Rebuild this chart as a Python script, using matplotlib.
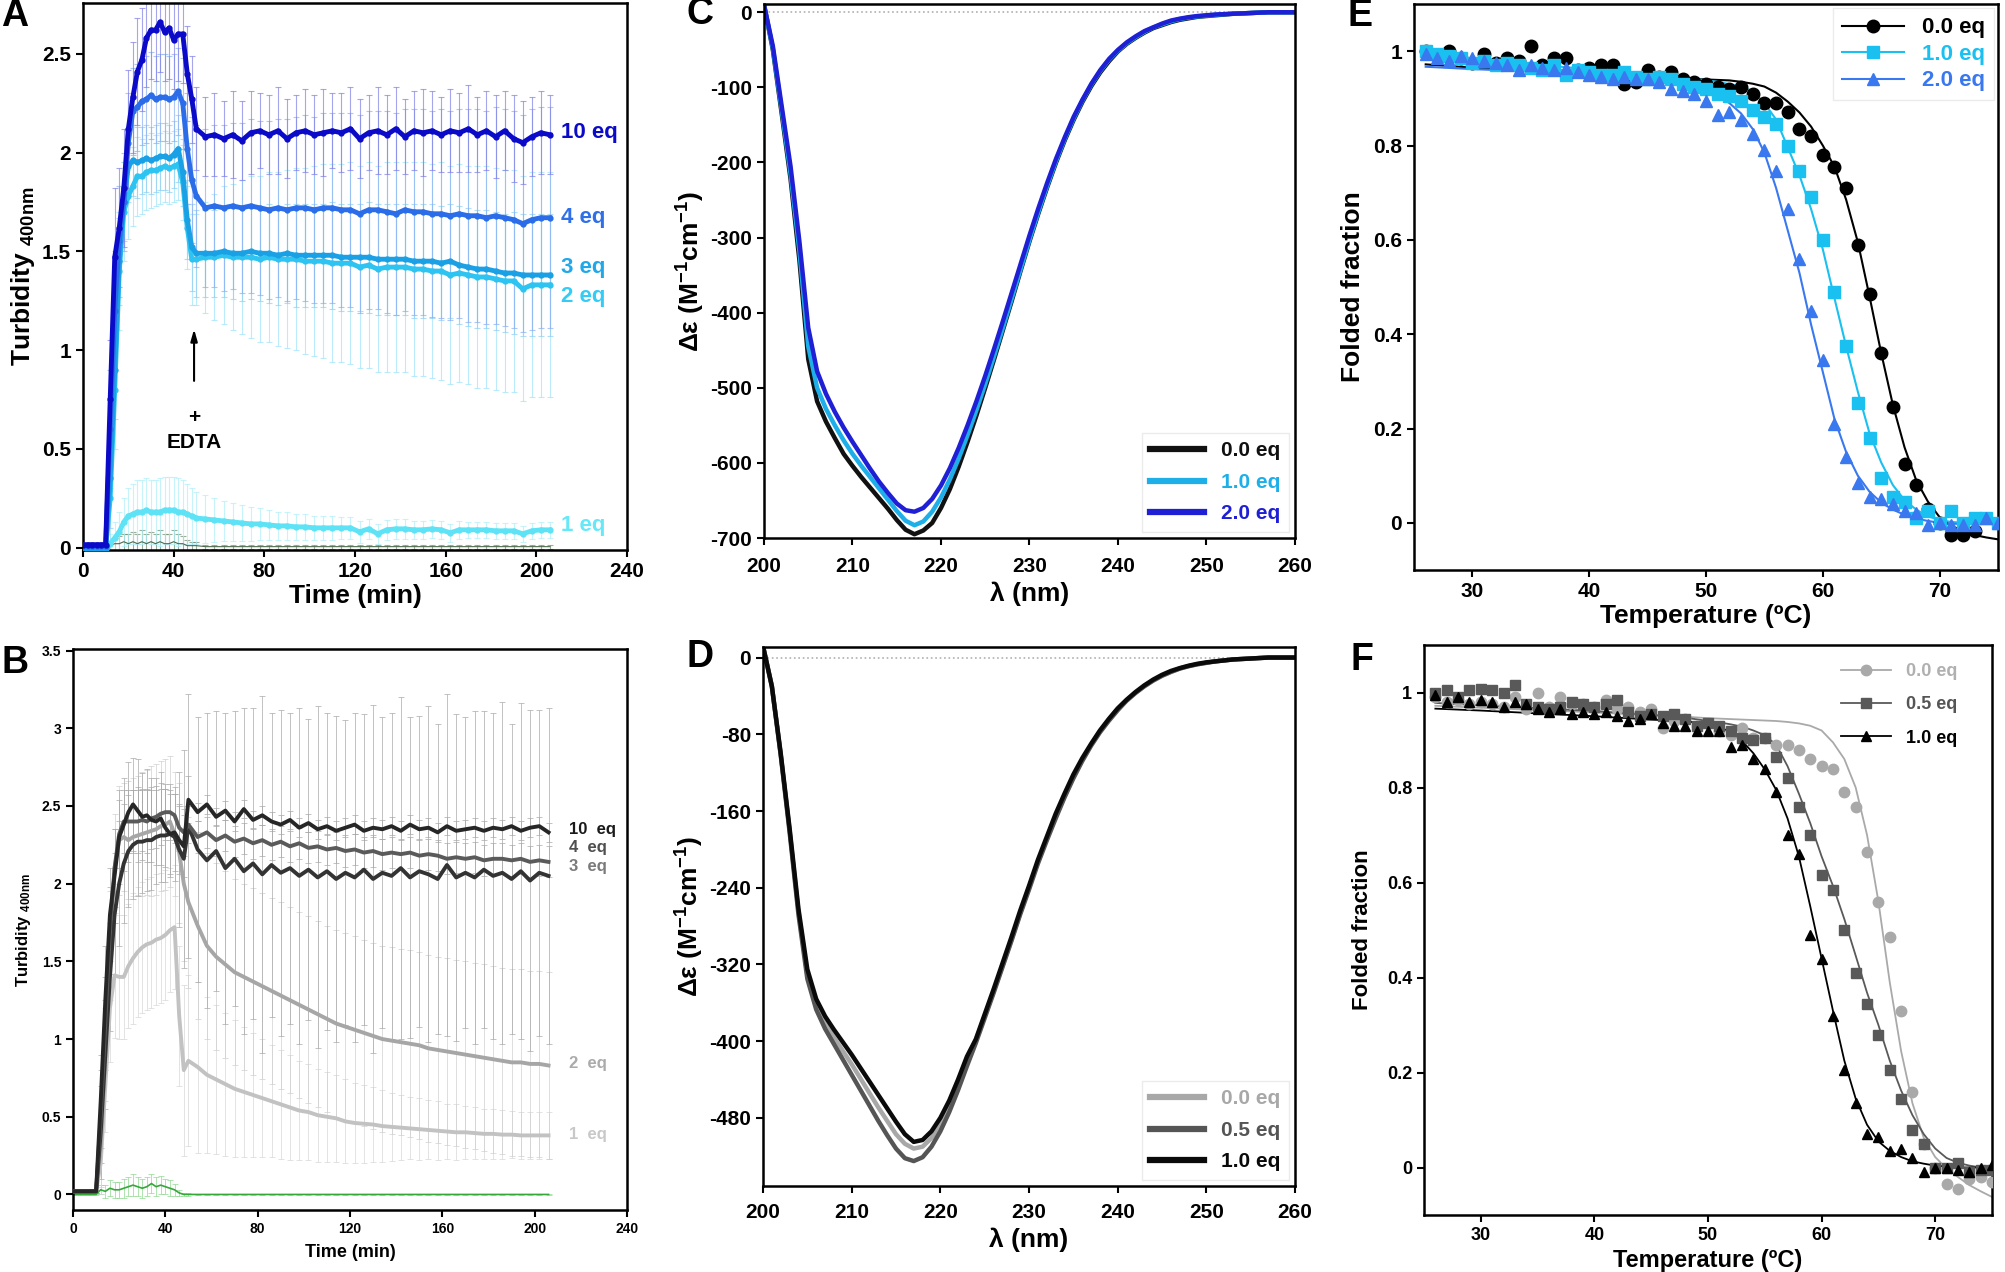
import matplotlib
matplotlib.use("Agg")
import matplotlib.pyplot as plt
from matplotlib.lines import Line2D
from matplotlib.ticker import FuncFormatter
import numpy as np

plt.rcParams["font.family"] = ["Liberation Sans", "DejaVu Sans"]
plt.rcParams["font.weight"] = "bold"
plt.rcParams["axes.labelweight"] = "bold"
plt.rcParams["mathtext.fontset"] = "custom"
plt.rcParams["mathtext.rm"] = "Liberation Sans:bold"
plt.rcParams["mathtext.it"] = "Liberation Sans:bold"
plt.rcParams["mathtext.bf"] = "Liberation Sans:bold"
plt.rcParams["axes.linewidth"] = 1.8

# ---------------- turbidity (A: blue, B: grey) ----------------
time = np.r_[np.arange(0, 51, 2), np.arange(54, 207, 4)]

a10 = [0.015] * 6 + [0.75, 1.47, 1.62, 1.82, 2.12, 2.28, 2.41, 2.47, 2.58, 2.62, 2.62, 2.66, 2.61, 2.63, 2.57, 2.60, 2.60, 2.40, 2.27, 2.12] + \
      [2.08, 2.09, 2.07, 2.09, 2.06, 2.10, 2.11, 2.09, 2.11, 2.07, 2.10, 2.11, 2.09, 2.10, 2.11, 2.10, 2.12, 2.07, 2.10, 2.11,
       2.09, 2.12, 2.08, 2.11, 2.10, 2.11, 2.09, 2.11, 2.10, 2.12, 2.09, 2.11, 2.08, 2.11, 2.07, 2.05, 2.08, 2.10, 2.09]
a4 = [0.01] * 6 + [0.6, 1.2, 1.55, 1.75, 2.05, 2.21, 2.23, 2.26, 2.27, 2.29, 2.27, 2.28, 2.28, 2.27, 2.28, 2.31, 2.25, 2.02, 1.86, 1.78] + \
     [1.72, 1.73, 1.72, 1.73, 1.72, 1.73, 1.72, 1.71, 1.72, 1.71, 1.72, 1.72, 1.71, 1.72, 1.72, 1.71, 1.71, 1.69, 1.71, 1.71,
      1.70, 1.69, 1.71, 1.70, 1.70, 1.69, 1.69, 1.68, 1.69, 1.68, 1.68, 1.67, 1.68, 1.67, 1.66, 1.64, 1.66, 1.67, 1.67]
a3 = [0.0] * 6 + [0.35, 0.9, 1.45, 1.75, 1.93, 1.96, 1.95, 1.96, 1.97, 1.96, 1.97, 1.98, 1.98, 1.97, 1.99, 2.02, 1.90, 1.66, 1.52, 1.49] + \
     [1.49, 1.49, 1.50, 1.49, 1.49, 1.50, 1.49, 1.49, 1.48, 1.49, 1.48, 1.48, 1.48, 1.48, 1.48, 1.47, 1.47, 1.47, 1.47, 1.46,
      1.46, 1.46, 1.46, 1.45, 1.45, 1.45, 1.44, 1.45, 1.43, 1.42, 1.41, 1.41, 1.40, 1.39, 1.39, 1.38, 1.38, 1.38, 1.38]
a2 = [0.0] * 6 + [0.25, 0.8, 1.40, 1.70, 1.78, 1.83, 1.88, 1.88, 1.90, 1.91, 1.91, 1.92, 1.93, 1.92, 1.93, 1.94, 1.85, 1.62, 1.46, 1.46] + \
     [1.47, 1.47, 1.48, 1.47, 1.47, 1.47, 1.46, 1.47, 1.46, 1.46, 1.46, 1.45, 1.45, 1.45, 1.44, 1.44, 1.44, 1.42, 1.43, 1.41,
      1.42, 1.42, 1.42, 1.41, 1.41, 1.40, 1.40, 1.38, 1.39, 1.38, 1.37, 1.37, 1.36, 1.35, 1.35, 1.31, 1.33, 1.33, 1.33]
a1 = [0.0] * 6 + [0.02, 0.05, 0.08, 0.13, 0.16, 0.17, 0.18, 0.18, 0.19, 0.18, 0.18, 0.18, 0.19, 0.19, 0.19, 0.18, 0.18, 0.17, 0.16, 0.15] + \
     [0.145, 0.14, 0.135, 0.13, 0.125, 0.12, 0.12, 0.115, 0.11, 0.11, 0.105, 0.105, 0.10, 0.10, 0.10, 0.10, 0.10, 0.08, 0.095, 0.07,
      0.09, 0.095, 0.095, 0.09, 0.09, 0.095, 0.09, 0.075, 0.09, 0.09, 0.09, 0.09, 0.085, 0.085, 0.085, 0.07, 0.085, 0.09, 0.09]
a0 = [0.0] * 6 + [0.01, 0.02, 0.02, 0.03, 0.02, 0.03, 0.02, 0.03, 0.02, 0.03, 0.02, 0.03, 0.02, 0.02, 0.03, 0.02, 0.02, 0.01, 0.01, 0.01] + [0.005] * 39

a10_err = [0.01] * 6 + [0.3, 0.35, 0.3, 0.3, 0.3, 0.28, 0.27, 0.26, 0.25, 0.25, 0.26, 0.25, 0.25, 0.26, 0.25, 0.24, 0.25, 0.24, 0.22, 0.21] + \
          [0.20, 0.21, 0.19, 0.22, 0.2, 0.21, 0.19, 0.2, 0.22, 0.2, 0.19, 0.21, 0.2, 0.22, 0.19, 0.2, 0.21, 0.2, 0.19, 0.22,
           0.2, 0.21, 0.19, 0.2, 0.22, 0.2, 0.19, 0.21, 0.2, 0.22, 0.19, 0.2, 0.21, 0.2, 0.22, 0.21, 0.2, 0.21, 0.2]
a4_err = [0.01] * 6 + [0.3, 0.3, 0.28, 0.25, 0.25, 0.22, 0.22, 0.22, 0.22, 0.22, 0.22, 0.22, 0.22, 0.22, 0.22, 0.22, 0.23, 0.28, 0.32, 0.36] + \
         [0.40, 0.41, 0.42, 0.42, 0.43, 0.44, 0.44, 0.45, 0.45, 0.46, 0.46, 0.47, 0.47, 0.48, 0.48, 0.49, 0.49, 0.5, 0.5, 0.5,
          0.51, 0.51, 0.51, 0.52, 0.52, 0.52, 0.53, 0.53, 0.53, 0.54, 0.54, 0.54, 0.55, 0.55, 0.55, 0.55, 0.56, 0.56, 0.56]
a3_err = [0.01] * 6 + [0.25, 0.25, 0.22, 0.2, 0.18, 0.18, 0.18, 0.17, 0.17, 0.17, 0.17, 0.17, 0.17, 0.17, 0.17, 0.17, 0.17, 0.2, 0.22, 0.22] + \
         [0.22, 0.22, 0.23, 0.23, 0.24, 0.24, 0.24, 0.25, 0.25, 0.25, 0.26, 0.26, 0.26, 0.26, 0.27, 0.27, 0.27, 0.27, 0.28, 0.28,
          0.28, 0.28, 0.28, 0.29, 0.29, 0.29, 0.29, 0.29, 0.3, 0.3, 0.3, 0.3, 0.3, 0.3, 0.31, 0.31, 0.31, 0.31, 0.31]
a2_err = [0.01] * 6 + [0.3, 0.3, 0.3, 0.25, 0.22, 0.2, 0.2, 0.19, 0.19, 0.19, 0.18, 0.18, 0.18, 0.18, 0.18, 0.18, 0.19, 0.21, 0.23, 0.23] + \
         [0.28, 0.32, 0.35, 0.37, 0.39, 0.41, 0.42, 0.43, 0.44, 0.45, 0.46, 0.47, 0.48, 0.49, 0.5, 0.5, 0.51, 0.51, 0.52, 0.52,
          0.53, 0.53, 0.53, 0.54, 0.54, 0.54, 0.55, 0.55, 0.55, 0.55, 0.56, 0.56, 0.56, 0.56, 0.56, 0.57, 0.57, 0.57, 0.57]
a1_err = [0.005] * 6 + [0.05, 0.08, 0.1, 0.12, 0.14, 0.15, 0.16, 0.16, 0.16, 0.16, 0.16, 0.17, 0.17, 0.17, 0.17, 0.17, 0.16, 0.15, 0.14, 0.13] + \
         [0.12, 0.11, 0.1, 0.095, 0.09, 0.085, 0.08, 0.075, 0.07, 0.07, 0.065, 0.065, 0.06, 0.06, 0.06, 0.055, 0.055, 0.055, 0.05, 0.05,
          0.05, 0.05, 0.05, 0.045, 0.045, 0.045, 0.045, 0.045, 0.045, 0.04, 0.04, 0.04, 0.04, 0.04, 0.04, 0.04, 0.04, 0.04, 0.04]
a0_err = [0.005] * 6 + [0.02, 0.03, 0.04, 0.04, 0.05, 0.05, 0.05, 0.06, 0.05, 0.05, 0.05, 0.06, 0.05, 0.05, 0.06, 0.05, 0.04, 0.03, 0.02, 0.02] + [0.01] * 39

b10 = [0.02] * 6 + [0.6, 1.25, 1.8, 2.05, 2.30, 2.38, 2.46, 2.51, 2.47, 2.43, 2.44, 2.41, 2.40, 2.42, 2.36, 2.32, 2.33, 2.28, 2.24, 2.54] + \
      [2.46, 2.51, 2.43, 2.47, 2.40, 2.48, 2.41, 2.44, 2.40, 2.38, 2.41, 2.36, 2.39, 2.35, 2.37, 2.34, 2.36, 2.38, 2.34, 2.36,
       2.35, 2.37, 2.34, 2.38, 2.35, 2.36, 2.33, 2.37, 2.34, 2.35, 2.36, 2.34, 2.36, 2.35, 2.37, 2.34, 2.36, 2.37, 2.33]
b4 = [0.02] * 6 + [0.5, 1.1, 1.7, 2.1, 2.32, 2.40, 2.40, 2.40, 2.40, 2.41, 2.40, 2.42, 2.43, 2.45, 2.46, 2.46, 2.44, 2.36, 2.33, 2.38] + \
     [2.30, 2.33, 2.28, 2.31, 2.27, 2.29, 2.26, 2.28, 2.25, 2.27, 2.24, 2.26, 2.23, 2.24, 2.22, 2.23, 2.21, 2.22, 2.20, 2.21,
      2.19, 2.20, 2.19, 2.20, 2.18, 2.19, 2.18, 2.16, 2.17, 2.16, 2.17, 2.15, 2.16, 2.16, 2.15, 2.16, 2.14, 2.15, 2.14]
b3 = [0.02] * 6 + [0.4, 0.9, 1.4, 1.8, 2.0, 2.13, 2.21, 2.25, 2.27, 2.27, 2.28, 2.28, 2.30, 2.31, 2.31, 2.32, 2.30, 2.22, 2.16, 2.37] + \
     [2.22, 2.15, 2.21, 2.10, 2.16, 2.08, 2.13, 2.06, 2.12, 2.07, 2.10, 2.05, 2.09, 2.04, 2.08, 2.03, 2.07, 2.04, 2.09, 2.03,
      2.07, 2.05, 2.10, 2.04, 2.08, 2.06, 2.03, 2.12, 2.04, 2.07, 2.04, 2.09, 2.05, 2.07, 2.03, 2.08, 2.02, 2.07, 2.05]
b2 = [0.02] * 6 + [0.3, 0.9, 1.6, 2.1, 2.28, 2.30, 2.28, 2.30, 2.31, 2.32, 2.33, 2.34, 2.35, 2.37, 2.38, 2.40, 2.32, 2.20, 2.00, 1.88] + \
     [1.73, 1.60, 1.53, 1.48, 1.43, 1.40, 1.37, 1.34, 1.31, 1.28, 1.25, 1.22, 1.19, 1.16, 1.13, 1.10, 1.08, 1.06, 1.04, 1.02,
      1.00, 0.99, 0.98, 0.97, 0.96, 0.94, 0.93, 0.92, 0.91, 0.90, 0.89, 0.88, 0.87, 0.86, 0.85, 0.85, 0.84, 0.84, 0.83]
b1 = [0.02] * 6 + [0.2, 0.7, 1.2, 1.41, 1.40, 1.40, 1.47, 1.52, 1.56, 1.59, 1.61, 1.62, 1.64, 1.65, 1.67, 1.70, 1.72, 1.15, 0.80, 0.86] + \
     [0.82, 0.77, 0.74, 0.71, 0.68, 0.66, 0.64, 0.62, 0.60, 0.58, 0.56, 0.54, 0.53, 0.51, 0.50, 0.49, 0.47, 0.46, 0.455, 0.45,
      0.44, 0.435, 0.43, 0.425, 0.42, 0.415, 0.41, 0.405, 0.40, 0.40, 0.395, 0.39, 0.39, 0.385, 0.385, 0.38, 0.38, 0.38, 0.38]
b0 = [0.0] * 6 + [0.03, 0.02, 0.04, 0.03, 0.03, 0.04, 0.05, 0.06, 0.05, 0.04, 0.05, 0.07, 0.05, 0.06, 0.05, 0.04, 0.03, 0.01, 0.0, 0.0] + [0.0] * 39

b10_err = [0.01] * 6 + [0.3, 0.35, 0.3, 0.3, 0.3, 0.3, 0.32, 0.3, 0.33, 0.28, 0.3, 0.27, 0.28, 0.3, 0.25, 0.26, 0.25, 0.22, 0.2, 0.15] + [0.06] * 39
b4_err = [0.01] * 6 + [0.3, 0.3, 0.28, 0.25, 0.22, 0.2, 0.2, 0.2, 0.2, 0.2, 0.2, 0.2, 0.2, 0.2, 0.18, 0.18, 0.18, 0.15, 0.15, 0.12] + [0.1] * 39
b3_err = [0.01] * 6 + [0.3, 0.35, 0.35, 0.4, 0.4, 0.38, 0.36, 0.35, 0.35, 0.33, 0.33, 0.32, 0.3, 0.3, 0.3, 0.28, 0.28, 0.5, 0.7, 0.85] + \
         [0.85, 0.95, 0.9, 1.0, 0.95, 1.05, 1.0, 1.15, 0.98, 1.05, 1.0, 1.08, 0.97, 1.1, 1.02, 1.05, 0.98, 1.06, 1.0, 1.12,
          1.0, 1.05, 1.1, 1.03, 1.0, 1.08, 1.0, 1.1, 1.05, 1.0, 1.07, 1.02, 1.05, 1.1, 1.0, 1.08, 1.1, 1.05, 1.08]
b2_err = [0.01] * 6 + [0.25, 0.3, 0.35, 0.35, 0.35, 0.35, 0.38, 0.38, 0.38, 0.4, 0.4, 0.42, 0.42, 0.42, 0.42, 0.42, 0.4, 0.45, 0.5, 0.55] + [0.6] * 39
b1_err = [0.01] * 6 + [0.2, 0.3, 0.35, 0.4, 0.4, 0.4, 0.4, 0.42, 0.42, 0.42, 0.42, 0.42, 0.42, 0.42, 0.42, 0.4, 0.4, 0.45, 0.55, 0.55] + \
         [0.55, 0.5, 0.48, 0.46, 0.44, 0.42, 0.4, 0.38, 0.36, 0.35, 0.34, 0.32, 0.31, 0.3, 0.29, 0.28, 0.27, 0.26, 0.25, 0.24,
          0.23, 0.22, 0.21, 0.2, 0.2, 0.19, 0.19, 0.18, 0.18, 0.17, 0.17, 0.16, 0.16, 0.16, 0.15, 0.15, 0.15, 0.15, 0.15]
b0_err = [0.005] * 6 + [0.03, 0.04, 0.05, 0.05, 0.05, 0.06, 0.06, 0.07, 0.06, 0.06, 0.06, 0.06, 0.06, 0.06, 0.05, 0.05, 0.04, 0.02, 0.01, 0.01] + [0.005] * 39

turb_labels = ["10 eq", "4 eq", "3 eq", "2 eq", "1 eq"]

# ---------------- CD spectra (C, D) ----------------
wl = np.arange(200, 261)
c_00 = [10, -50, -135, -222, -330, -462, -518, -545, -567, -588, -604, -619, -633, -647, -661, -676, -689, -695, -690,
        -680, -660, -635, -605, -572, -537, -500, -462, -423, -384, -344, -305, -268, -233, -200, -170, -143, -119, -98,
        -80, -65, -52, -42, -34, -27, -21, -17, -13, -10, -8, -6, -5, -4, -3, -2, -1.5, -1, -0.5, 0, 0, 0, 0]
c_10 = [10, -48, -130, -215, -318, -445, -500, -528, -550, -570, -588, -604, -619, -634, -649, -664, -677, -683, -678,
        -665, -646, -622, -594, -563, -530, -495, -458, -420, -381, -342, -303, -266, -231, -198, -168, -141, -117, -96,
        -78, -63, -51, -41, -33, -26, -20, -16, -12, -9, -7, -5.5, -4.5, -3.5, -2.5, -2, -1.5, -1, -0.5, 0, 0, 0, 0]
c_20 = [10, -45, -125, -205, -305, -420, -478, -508, -532, -553, -572, -590, -608, -625, -640, -654, -663, -665, -660,
        -648, -630, -607, -580, -550, -518, -484, -448, -411, -373, -335, -297, -261, -227, -195, -166, -139, -116, -95,
        -77, -62, -50, -40, -32, -25, -20, -15, -11, -8.5, -6.5, -5, -4, -3, -2.5, -2, -1.5, -1, -0.5, 0, 0, 0, 0]
d_00 = [12, -30, -101, -180, -265, -330, -362, -381, -396, -410, -424, -439, -454, -469, -483, -497, -507, -512, -510,
        -501, -487, -468, -446, -421, -399, -374, -348, -322, -295, -267, -240, -213, -189, -166, -145, -125, -107, -91,
        -77, -65, -54, -45, -37, -30, -24, -19, -15, -11.5, -9, -7, -5.5, -4, -3, -2, -1.5, -1, -0.5, 0, 0, 0, 0]
d_05 = [12, -30, -102, -182, -268, -335, -367, -387, -403, -419, -435, -451, -467, -483, -498, -512, -522, -525, -521,
        -510, -494, -474, -451, -426, -402, -376, -350, -323, -296, -268, -242, -215, -191, -168, -146, -126, -108, -92,
        -78, -66, -55, -45, -37, -30, -24, -19, -15, -11.5, -9, -7, -5.5, -4, -3, -2, -1.5, -1, -0.5, 0, 0, 0, 0]
d_10 = [12, -30, -100, -178, -262, -325, -356, -374, -388, -401, -414, -428, -442, -456, -470, -484, -497, -505, -503,
        -494, -480, -462, -440, -416, -398, -372, -346, -319, -292, -264, -238, -211, -187, -163, -142, -122, -105, -90,
        -76, -64, -53, -44, -36, -29, -23, -18, -14, -11, -8.5, -6.5, -5, -4, -3, -2, -1.5, -1, -0.5, 0, 0, 0, 0]

# ---------------- thermal melts (E, F) ----------------
temp = np.arange(26, 76)
nan = np.nan
e_00 = [1.0, 0.99, 1.0, 0.985, 0.975, 0.995, 0.975, 0.985, 0.98, 1.01, 0.97, 0.985, 0.985, 0.96, 0.965, 0.97, 0.97,
        0.93, 0.935, 0.96, 0.945, 0.955, 0.94, 0.935, 0.93, 0.925, 0.92, 0.925, 0.91, 0.89, 0.89, 0.87, 0.835, 0.82,
        0.78, 0.755, 0.71, 0.59, 0.485, 0.36, 0.245, 0.125, 0.08, 0.03, 0.0, -0.025, -0.025, -0.018, nan, nan]
e_10 = [1.0, 0.995, 0.99, 0.985, 0.975, 0.98, 0.97, 0.975, 0.97, 0.965, 0.96, 0.97, 0.95, 0.96, 0.955, 0.95, 0.95,
        0.955, 0.945, 0.94, 0.945, 0.94, 0.93, 0.925, 0.92, 0.91, 0.905, 0.895, 0.876, 0.86, 0.845, 0.80, 0.745, 0.69,
        0.60, 0.49, 0.375, 0.255, 0.18, 0.095, 0.055, 0.045, 0.01, 0.025, 0.0, 0.025, 0.0, 0.01, 0.01, 0.0]
e_20 = [0.995, 0.985, 0.98, 0.99, 0.985, 0.98, 0.975, 0.97, 0.96, 0.97, 0.965, 0.96, 0.965, 0.955, 0.95, 0.945, 0.94,
        0.945, 0.94, 0.94, 0.935, 0.92, 0.915, 0.91, 0.895, 0.865, 0.87, 0.855, 0.825, 0.79, 0.745, 0.665, 0.56, 0.45,
        0.345, 0.21, 0.14, 0.085, 0.055, 0.05, 0.04, 0.025, 0.02, -0.005, 0.0, -0.005, -0.005, -0.005, 0.01, 0.0]
f_00 = [0.99, 0.98, 0.985, 0.975, 0.98, 0.975, 0.97, 0.99, 0.965, 1.0, 0.97, 0.99, 0.975, 0.975, 0.97, 0.985, 0.965,
        0.97, 0.96, 0.965, 0.925, 0.94, 0.945, 0.93, 0.935, 0.92, 0.91, 0.925, 0.905, 0.905, 0.89, 0.89, 0.88, 0.86,
        0.845, 0.84, 0.79, 0.76, 0.665, 0.56, 0.485, 0.33, 0.16, 0.05, 0.0, -0.035, -0.045, -0.025, -0.02, -0.03]
f_05 = [1.0, 1.005, 0.99, 1.005, 1.007, 1.005, 1.0, 1.015, 0.975, 0.97, 0.965, 0.97, 0.98, 0.975, 0.97, 0.975, 0.985,
        0.96, 0.95, 0.955, 0.95, 0.955, 0.945, 0.93, 0.935, 0.93, 0.92, 0.905, 0.9, 0.905, 0.865, 0.82, 0.76, 0.70,
        0.615, 0.585, 0.50, 0.41, 0.345, 0.28, 0.205, 0.145, 0.08, 0.05, 0.0, 0.0, 0.01, -0.01, -0.005, -0.005]
f_10 = [0.995, 0.98, 0.99, 0.98, 0.985, 0.98, 0.97, 0.98, 0.975, 0.965, 0.96, 0.965, 0.955, 0.96, 0.955, 0.96, 0.95,
        0.94, 0.945, 0.955, 0.935, 0.93, 0.93, 0.92, 0.92, 0.92, 0.885, 0.89, 0.86, 0.84, 0.79, 0.70, 0.66, 0.49,
        0.44, 0.32, 0.205, 0.135, 0.07, 0.065, 0.035, 0.04, 0.02, -0.01, 0.0, 0.0, -0.005, -0.01, 0.0, 0.005]

fit_t = [26, 30, 35, 40, 45, 48, 50, 51, 52, 53, 54, 55, 56, 57, 58, 59, 60, 61, 62, 63, 64, 65, 66, 67, 68, 69,
         70, 71, 72, 73, 74, 75]
e_fit_00 = [0.972, 0.965, 0.958, 0.951, 0.945, 0.942, 0.94, 0.939, 0.938, 0.935, 0.931, 0.925, 0.912, 0.893, 0.87,
            0.84, 0.80, 0.755, 0.685, 0.595, 0.48, 0.36, 0.25, 0.16, 0.09, 0.045, 0.012, -0.006, -0.018, -0.026,
            -0.031, -0.035]
e_fit_10 = [0.99, 0.982, 0.972, 0.962, 0.952, 0.945, 0.938, 0.935, 0.93, 0.925, 0.915, 0.89, 0.855, 0.796, 0.737,
            0.665, 0.58, 0.476, 0.374, 0.278, 0.19, 0.128, 0.08, 0.048, 0.028, 0.014, 0.006, 0.002, 0.0, 0.0, 0.0, 0.0]
e_fit_20 = [0.967, 0.962, 0.957, 0.95, 0.94, 0.93, 0.918, 0.905, 0.89, 0.868, 0.835, 0.785, 0.71, 0.62, 0.53, 0.42,
            0.32, 0.22, 0.15, 0.10, 0.066, 0.043, 0.028, 0.017, 0.009, 0.004, 0.0, -0.002, -0.002, -0.002, -0.002,
            -0.002]
f_fit_00 = [0.972, 0.968, 0.963, 0.958, 0.952, 0.949, 0.946, 0.945, 0.944, 0.943, 0.942, 0.941, 0.94, 0.938, 0.935,
            0.93, 0.92, 0.895, 0.86, 0.80, 0.70, 0.56, 0.39, 0.245, 0.135, 0.062, 0.022, -0.002, -0.02, -0.037,
            -0.05, -0.062]
f_fit_05 = [0.978, 0.973, 0.967, 0.961, 0.953, 0.947, 0.94, 0.937, 0.933, 0.928, 0.92, 0.91, 0.89, 0.845, 0.787,
            0.725, 0.655, 0.593, 0.523, 0.446, 0.368, 0.30, 0.225, 0.162, 0.11, 0.07, 0.04, 0.02, 0.01, 0.004, 0.0,
            -0.002]
f_fit_10 = [0.966, 0.962, 0.956, 0.95, 0.943, 0.939, 0.935, 0.928, 0.916, 0.898, 0.872, 0.838, 0.795, 0.735, 0.655,
            0.55, 0.44, 0.33, 0.225, 0.145, 0.09, 0.055, 0.035, 0.022, 0.013, 0.008, 0.004, 0.002, 0.0, 0.0, 0.0, 0.0]

# ---------------- figure ----------------
W, H = 2006, 1272
fig = plt.figure(figsize=(W / 100, H / 100), dpi=100)


def panel(l, t, r, b):
    return fig.add_axes([l / W, 1 - b / H, (r - l) / W, (b - t) / H])


def style(ax, size, pad=3.5):
    ax.tick_params(direction="out", length=5, width=1.5, labelsize=size, pad=pad)
    ax.xaxis.set_major_formatter(FuncFormatter(lambda v, p: f"{v:g}"))
    ax.yaxis.set_major_formatter(FuncFormatter(lambda v, p: f"{v:g}"))


# A
ax = panel(83, 3, 627, 550)
a_series = [a0, a1, a2, a3, a4, a10]
a_errs = [a0_err, a1_err, a2_err, a3_err, a4_err, a10_err]
a_cols = ["#4d6b4d", "#5de3f5", "#2dc4f2", "#1aa0e4", "#2b6de8", "#0a0ac8"]
a_ecols = ["#6f8f6f", "#b0f0fa", "#a0e4fa", "#90cff2", "#8cb0f2", "#8080e6"]
for y, e, ec in zip(a_series, a_errs, a_ecols):
    ax.errorbar(time, y, yerr=e, fmt="none", ecolor=ec, elinewidth=0.8, capsize=2.5, capthick=0.8,
                alpha=0.7, zorder=1)
ax.plot(time, a0, color=a_cols[0], lw=0.8, zorder=2)
for y, c in zip(a_series[1:], a_cols[1:]):
    ax.plot(time, y, color=c, lw=3.5, marker="o", ms=3.5, zorder=3)
a_lab_y = [2.10, 1.67, 1.42, 1.27, 0.11]
a_lab_c = ["#0a0ac8", "#2f6fe8", "#20a8ea", "#33ccf7", "#66e8f8"]
for lab, yv, c in zip(turb_labels, a_lab_y, a_lab_c):
    ax.text(211, yv, lab, color=c, fontsize=16, va="center")
ax.annotate("", xy=(49, 1.12), xytext=(49, 0.83),
            arrowprops=dict(arrowstyle="-|>,head_width=0.2,head_length=0.7", color="black", lw=1.5))
ax.text(49, 0.66, "+", fontsize=15, ha="center", va="center")
ax.text(49, 0.53, "EDTA", fontsize=15, ha="center", va="center")
ax.set_xlim(0, 240)
ax.set_ylim(-0.012, 2.757)
ax.set_xticks(range(0, 241, 40))
ax.set_yticks([0, 0.5, 1, 1.5, 2, 2.5])
style(ax, 15)
ax.set_xlabel("Time (min)", fontsize=19, labelpad=2)
ax.set_ylabel(r"Turbidity $_{400nm}$", fontsize=19, labelpad=4)

# B
ax = panel(73, 649, 627, 1210)
b_series = [b0, b1, b2, b3, b4, b10]
b_errs = [b0_err, b1_err, b2_err, b3_err, b4_err, b10_err]
b_cols = ["#35a83a", "#c2c2c2", "#a6a6a6", "#333333", "#5a5a5a", "#262626"]
b_ecols = ["#8fd690", "#d6d6d6", "#cfcfcf", "#a8a8a8", "#a8a8a8", "#a8a8a8"]
for y, e, ec in zip(b_series, b_errs, b_ecols):
    ax.errorbar(time, y, yerr=e, fmt="none", ecolor=ec, elinewidth=0.7, capsize=2, capthick=0.7,
                alpha=0.7, zorder=1)
ax.plot(time, b0, color=b_cols[0], lw=1.2, zorder=2)
for y, c in zip(b_series[1:], b_cols[1:]):
    ax.plot(time, y, color=c, lw=2.8, zorder=3)
b_lab_y = [2.35, 2.23, 2.11, 0.84, 0.385]
b_lab_c = ["#1a1a1a", "#505050", "#7a7a7a", "#ababab", "#c8c8c8"]
for lab, yv, c in zip(turb_labels, b_lab_y, b_lab_c):
    ax.text(215, yv, lab.replace(" ", "  "), color=c, fontsize=12, va="center")
ax.set_xlim(0, 240)
ax.set_ylim(-0.1, 3.51)
ax.set_xticks(range(0, 241, 40))
ax.set_yticks([0, 0.5, 1, 1.5, 2, 2.5, 3, 3.5])
style(ax, 10)
ax.set_xlabel("Time (min)", fontsize=13, labelpad=6)
ax.set_ylabel(r"Turbidity $_{400nm}$", fontsize=12, labelpad=6)

# C
ax = panel(764, 4, 1295, 538)
ax.axhline(0, color="#b0b0b0", ls=":", lw=1.2, zorder=0)
c_cols = ["#111111", "#1eaee8", "#1f1fd6"]
for y, c, lab in zip([c_00, c_10, c_20], c_cols, ["0.0 eq", "1.0 eq", "2.0 eq"]):
    ax.plot(wl, y, color=c, lw=3.2, label=lab)
leg = ax.legend(loc="lower right", fontsize=15, handlelength=2.6, frameon=True, fancybox=False,
                edgecolor="#e6e6e6", borderaxespad=0.3, labelspacing=0.6)
for t, c in zip(leg.get_texts(), c_cols):
    t.set_color(c)
for h in leg.get_lines():
    h.set_linewidth(4.5)
ax.set_xlim(200, 260)
ax.set_ylim(-700, 11)
ax.set_xticks(range(200, 261, 10))
ax.set_yticks(range(-700, 1, 100))
style(ax, 15)
ax.tick_params(axis="x", pad=9)
ax.set_xlabel("λ (nm)", fontsize=19, labelpad=4)
ax.set_ylabel(r"Δε (M$^{-1}$cm$^{-1}$)", fontsize=19, labelpad=2)

# D
ax = panel(763, 647, 1295, 1186)
ax.axhline(0, color="#b0b0b0", ls=":", lw=1.2, zorder=0)
d_cols = ["#a8a8a8", "#555555", "#0a0a0a"]
for y, c, lab in zip([d_00, d_05, d_10], d_cols, ["0.0 eq", "0.5 eq", "1.0 eq"]):
    ax.plot(wl, y, color=c, lw=3.2, label=lab)
leg = ax.legend(loc="lower right", fontsize=15, handlelength=2.6, frameon=True, fancybox=False,
                edgecolor="#e6e6e6", borderaxespad=0.3, labelspacing=0.6)
for t, c in zip(leg.get_texts(), d_cols):
    t.set_color(c)
for h in leg.get_lines():
    h.set_linewidth(4.5)
ax.set_xlim(200, 260)
ax.set_ylim(-551, 11)
ax.set_xticks(range(200, 261, 10))
ax.set_yticks(range(-480, 1, 80))
style(ax, 15)
ax.tick_params(axis="x", pad=7)
ax.set_xlabel("λ (nm)", fontsize=19, labelpad=4)
ax.set_ylabel(r"Δε (M$^{-1}$cm$^{-1}$)", fontsize=19, labelpad=2)

# E
ax = panel(1414, 4, 1998, 570)
e_cols = ["#000000", "#1ac0f0", "#3a78f0"]
markers = ["o", "s", "^"]
e_ms = [9, 9, 8]
for y, f, c, m, s in zip([e_00, e_10, e_20], [e_fit_00, e_fit_10, e_fit_20], e_cols, markers, e_ms):
    ax.plot(temp, y, ls="none", marker=m, ms=s, color=c, zorder=3)
    ax.plot(fit_t, f, color=c, lw=1.5, zorder=2)
handles = [Line2D([], [], color=c, marker=m, ms=s, lw=1.5) for c, m, s in zip(e_cols, markers, e_ms)]
leg = ax.legend(handles, ["0.0 eq", "1.0 eq", "2.0 eq"], loc="upper right", fontsize=16, handlelength=2.8,
                frameon=True, fancybox=False, edgecolor="#e6e6e6", borderaxespad=0.2, labelspacing=0.25)
for t, c in zip(leg.get_texts(), e_cols):
    t.set_color(c)
ax.set_xlim(25, 75)
ax.set_ylim(-0.1, 1.1)
ax.set_xticks(range(30, 71, 10))
ax.set_yticks([0, 0.2, 0.4, 0.6, 0.8, 1])
style(ax, 15)
ax.set_xlabel("Temperature (ºC)", fontsize=19, labelpad=2)
ax.set_ylabel("Folded fraction", fontsize=19, labelpad=6)

# F
ax = panel(1424, 645, 1992, 1215)
f_cols = ["#a9a9a9", "#595959", "#000000"]
f_ms = [7.5, 7.5, 6.5]
for y, f, c, m, s in zip([f_00, f_05, f_10], [f_fit_00, f_fit_05, f_fit_10], f_cols, markers, f_ms):
    ax.plot(temp, y, ls="none", marker=m, ms=s, color=c, zorder=3)
    ax.plot(fit_t, f, color=c, lw=1.3, zorder=2)
handles = [Line2D([], [], color=c, marker=m, ms=s, lw=1.3) for c, m, s in zip(f_cols, markers, f_ms)]
leg = ax.legend(handles, ["0.0 eq", "0.5 eq", "1.0 eq"], loc="upper right", fontsize=13, handlelength=2.8,
                frameon=False, borderaxespad=0.6, labelspacing=0.9, bbox_to_anchor=(0.97, 1.0))
for t, c in zip(leg.get_texts(), ["#b0b0b0", "#555555", "#000000"]):
    t.set_color(c)
ax.set_xlim(25, 75)
ax.set_ylim(-0.1, 1.1)
ax.set_xticks(range(30, 71, 10))
ax.set_yticks([0, 0.2, 0.4, 0.6, 0.8, 1])
style(ax, 13)
ax.set_xlabel("Temperature (ºC)", fontsize=17, labelpad=4)
ax.set_ylabel("Folded fraction", fontsize=16, labelpad=10)

# panel letters
for lab, x, y in [("A", 15, 16), ("B", 15, 663), ("C", 700, 14), ("D", 700, 657), ("E", 1360, 16), ("F", 1362, 660)]:
    fig.text(x / W, 1 - y / H, lab, fontsize=27, ha="center", va="center")

fig.savefig("out.png", dpi=100)
